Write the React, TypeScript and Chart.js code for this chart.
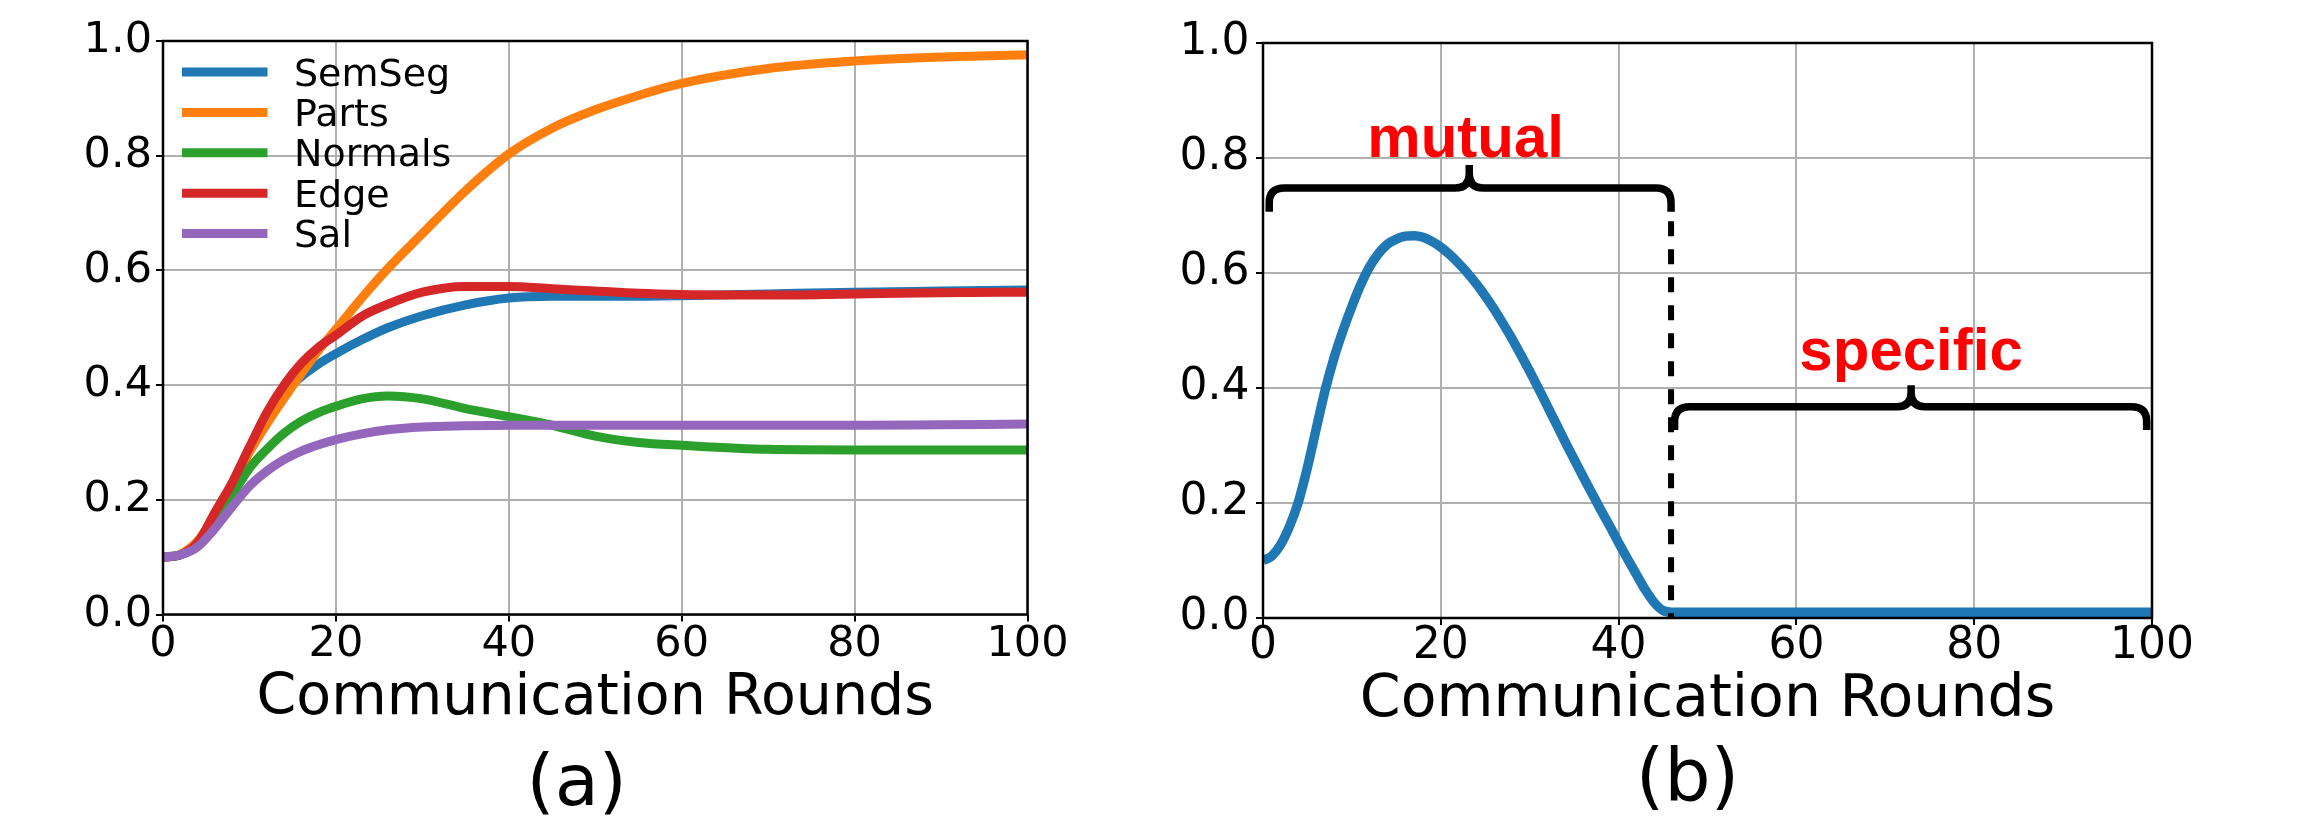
import React, { useEffect, useRef } from "react";
import { Chart, registerables } from "chart.js";

Chart.register(...registerables);

// ---------------- data ----------------
const SERIES_NAMES = ["SemSeg", "Parts", "Normals", "Edge", "Sal"];
const SERIES_COLORS = ["#1f77b4", "#ff7f0e", "#2ca02c", "#d62728", "#9467bd"];

const ROUNDS_A = [0, 2, 4, 6, 8, 10, 12, 14, 16, 18, 20, 23, 26, 30, 35, 40, 45, 50, 55, 60, 70, 80, 90, 100];
const SEMSEG = [0.100, 0.104, 0.125, 0.174, 0.226, 0.286, 0.340, 0.385, 0.415, 0.437, 0.455, 0.479, 0.500, 0.521, 0.540, 0.552, 0.555, 0.555, 0.555, 0.556, 0.559, 0.562, 0.564, 0.566];
const PARTS = [0.100, 0.105, 0.128, 0.172, 0.222, 0.283, 0.332, 0.377, 0.420, 0.461, 0.497, 0.552, 0.603, 0.664, 0.739, 0.803, 0.848, 0.880, 0.905, 0.926, 0.952, 0.965, 0.972, 0.976];
const NORMALS = [0.100, 0.104, 0.122, 0.160, 0.208, 0.255, 0.288, 0.316, 0.337, 0.352, 0.363, 0.376, 0.381, 0.376, 0.359, 0.345, 0.330, 0.311, 0.300, 0.295, 0.288, 0.287, 0.287, 0.287];
const EDGE = [0.100, 0.104, 0.125, 0.178, 0.230, 0.292, 0.352, 0.400, 0.438, 0.466, 0.487, 0.520, 0.541, 0.562, 0.572, 0.572, 0.568, 0.564, 0.560, 0.558, 0.557, 0.559, 0.561, 0.562];
const SAL = [0.100, 0.104, 0.118, 0.150, 0.188, 0.224, 0.250, 0.270, 0.285, 0.296, 0.305, 0.315, 0.322, 0.327, 0.329, 0.330, 0.330, 0.330, 0.330, 0.330, 0.330, 0.330, 0.331, 0.332];

const ROUNDS_B = [0, 1, 2, 3, 4, 5, 6, 7, 8, 9, 10, 11, 12, 13, 14, 15, 16, 17, 18, 19, 20, 21, 22, 23, 24, 25, 26, 27, 28, 29, 30, 31, 32, 33, 34, 35, 36, 37, 38, 39, 40, 41, 42, 43, 44, 45, 46, 60, 80, 100];
const GAP_B = [0.100, 0.108, 0.128, 0.160, 0.203, 0.262, 0.330, 0.397, 0.453, 0.500, 0.542, 0.580, 0.611, 0.634, 0.650, 0.659, 0.664, 0.665, 0.662, 0.655, 0.645, 0.632, 0.617, 0.600, 0.581, 0.560, 0.537, 0.512, 0.486, 0.458, 0.429, 0.399, 0.368, 0.337, 0.306, 0.276, 0.246, 0.217, 0.188, 0.160, 0.131, 0.103, 0.076, 0.049, 0.027, 0.013, 0.010, 0.010, 0.010, 0.010];

const X_TICKS = [0, 20, 40, 60, 80, 100];
const Y_TICKS = [0, 0.2, 0.4, 0.6, 0.8, 1.0];
const X_TITLE = "Communication Rounds";
const CAPTION_A = "(a)";
const CAPTION_B = "(b)";

// annotations of panel (b), in data units
const SPLIT_ROUND = 45.9;
const SPLIT_TOP = 0.69;
const MUTUAL_LABEL = "mutual";
const MUTUAL_LABEL_POS = [22.8, 0.802];
const MUTUAL_BRACE = { from: 0.7, to: 45.9, tip: 23.2, end: 0.7065, bar: 0.748, top: 0.788 };
const SPECIFIC_LABEL = "specific";
const SPECIFIC_LABEL_POS = [72.9, 0.431];
const SPECIFIC_BRACE = { from: 46.3, to: 99.4, tip: 72.9, end: 0.327, bar: 0.3675, top: 0.405 };

const FONT = "'DejaVu Sans', sans-serif";

// ---------------- helpers ----------------
const toPoints = (xs: number[], ys: number[]) => xs.map((x, i) => ({ x, y: ys[i] }));

const framePlugin = {
  id: "frame",
  afterDatasetsDraw(chart: any) {
    const { ctx, chartArea: a } = chart;
    ctx.save();
    ctx.strokeStyle = "#000";
    ctx.lineWidth = 2.5;
    ctx.strokeRect(a.left, a.top, a.right - a.left, a.bottom - a.top);
    ctx.restore();
  },
};

const captionPlugin = (text: string, size: number, dx: number, baseline: number) => ({
  id: "caption",
  afterDraw(chart: any) {
    const { ctx, chartArea: a } = chart;
    ctx.save();
    ctx.fillStyle = "#000";
    ctx.font = `${size}px ${FONT}`;
    ctx.textAlign = "center";
    ctx.textBaseline = "alphabetic";
    ctx.fillText(text, (a.left + a.right) / 2 + dx, baseline);
    ctx.restore();
  },
});

const legendPlugin = {
  id: "mplLegend",
  afterDatasetsDraw(chart: any) {
    const { ctx, chartArea: a } = chart;
    ctx.save();
    chart.data.datasets.forEach((ds: any, i: number) => {
      const cy = a.top + 31 + i * 40.4;
      ctx.strokeStyle = ds.borderColor;
      ctx.lineWidth = 9;
      ctx.lineCap = "butt";
      ctx.beginPath();
      ctx.moveTo(a.left + 19, cy);
      ctx.lineTo(a.left + 104.5, cy);
      ctx.stroke();
      ctx.fillStyle = "#000";
      ctx.font = `38px ${FONT}`;
      ctx.textAlign = "left";
      ctx.textBaseline = "alphabetic";
      ctx.fillText(ds.label, a.left + 131, cy + 13.5);
    });
    ctx.restore();
  },
};

function drawBrace(ctx: any, xs: any, ys: any, b: any) {
  const x1 = xs.getPixelForValue(b.from);
  const x2 = xs.getPixelForValue(b.to);
  const xm = xs.getPixelForValue(b.tip);
  const yEnd = ys.getPixelForValue(b.end);
  const yBar = ys.getPixelForValue(b.bar);
  const yTop = ys.getPixelForValue(b.top);
  const r = Math.min(15, yEnd - yBar);
  const r2 = Math.min(14, yBar - yTop);
  ctx.beginPath();
  ctx.moveTo(x1, yEnd);
  ctx.lineTo(x1, yBar + r);
  ctx.quadraticCurveTo(x1, yBar, x1 + r, yBar);
  ctx.lineTo(xm - r2, yBar);
  ctx.quadraticCurveTo(xm, yBar, xm, yBar - r2);
  ctx.lineTo(xm, yTop);
  ctx.moveTo(xm, yBar - r2);
  ctx.quadraticCurveTo(xm, yBar, xm + r2, yBar);
  ctx.lineTo(x2 - r, yBar);
  ctx.quadraticCurveTo(x2, yBar, x2, yBar + r);
  ctx.lineTo(x2, yEnd);
  ctx.stroke();
}

const annotationPlugin = {
  id: "bAnnotations",
  afterDatasetsDraw(chart: any) {
    const { ctx } = chart;
    const xs = chart.scales.x;
    const ys = chart.scales.y;
    ctx.save();
    // dashed split line
    ctx.strokeStyle = "#000";
    ctx.lineWidth = 6;
    ctx.lineCap = "butt";
    ctx.setLineDash([15, 13]);
    ctx.beginPath();
    ctx.moveTo(xs.getPixelForValue(SPLIT_ROUND), ys.getPixelForValue(SPLIT_TOP));
    ctx.lineTo(xs.getPixelForValue(SPLIT_ROUND), ys.getPixelForValue(0));
    ctx.stroke();
    ctx.setLineDash([]);
    // braces
    ctx.lineWidth = 7.5;
    ctx.lineJoin = "round";
    drawBrace(ctx, xs, ys, MUTUAL_BRACE);
    drawBrace(ctx, xs, ys, SPECIFIC_BRACE);
    // labels
    ctx.fillStyle = "#ff0000";
    ctx.font = `bold 60px 'Liberation Sans', Arial, sans-serif`;
    ctx.textAlign = "center";
    ctx.textBaseline = "alphabetic";
    ctx.fillText(MUTUAL_LABEL, xs.getPixelForValue(MUTUAL_LABEL_POS[0]), ys.getPixelForValue(MUTUAL_LABEL_POS[1]));
    ctx.fillText(SPECIFIC_LABEL, xs.getPixelForValue(SPECIFIC_LABEL_POS[0]), ys.getPixelForValue(SPECIFIC_LABEL_POS[1]));
    ctx.restore();
  },
};

function makeScales(o: any) {
  return {
    x: {
      type: "linear",
      min: 0,
      max: 100,
      afterBuildTicks: (s: any) => {
        s.ticks = X_TICKS.map((value) => ({ value }));
      },
      afterFit: (s: any) => {
        s.height = o.xHeight;
      },
      grid: { color: "#b0b0b0", lineWidth: 2, drawTicks: true, tickLength: 7, tickColor: "#000", tickWidth: 2 },
      border: { display: false },
      ticks: {
        color: "#000",
        font: { family: FONT, size: o.tick, lineHeight: 1 },
        padding: o.xPad,
        maxRotation: 0,
        autoSkip: false,
        callback: (v: any) => String(v),
      },
      title: {
        display: true,
        text: X_TITLE,
        color: "#000",
        font: { family: FONT, size: o.title, lineHeight: 1 },
        padding: { top: 0, bottom: o.titlePad },
      },
    },
    y: {
      type: "linear",
      min: 0,
      max: 1,
      afterBuildTicks: (s: any) => {
        s.ticks = Y_TICKS.map((value) => ({ value }));
      },
      afterFit: (s: any) => {
        s.width = o.yWidth;
      },
      grid: { color: "#b0b0b0", lineWidth: 2, drawTicks: true, tickLength: 7, tickColor: "#000", tickWidth: 2 },
      border: { display: false },
      ticks: {
        color: "#000",
        font: { family: FONT, size: o.tick, lineHeight: 1 },
        padding: o.yPad,
        autoSkip: false,
        callback: (v: any) => Number(v).toFixed(1),
      },
    },
  };
}

export default function App() {
  const refA = useRef<HTMLCanvasElement>(null);
  const refB = useRef<HTMLCanvasElement>(null);

  useEffect(() => {
    const seriesA = [SEMSEG, PARTS, NORMALS, EDGE, SAL];
    const chartA = new Chart(refA.current as HTMLCanvasElement, {
      type: "line",
      data: {
        datasets: seriesA.map((vals, i) => ({
          label: SERIES_NAMES[i],
          data: toPoints(ROUNDS_A, vals),
          borderColor: SERIES_COLORS[i],
          backgroundColor: SERIES_COLORS[i],
          borderWidth: 9,
          pointRadius: 0,
          fill: false,
          cubicInterpolationMode: "monotone",
          borderCapStyle: "butt",
          borderJoinStyle: "round",
          order: seriesA.length - i,
        })),
      },
      options: {
        animation: false,
        responsive: false,
        devicePixelRatio: 1,
        layout: { padding: { left: 0, top: 41, right: 122.5, bottom: 0 } },
        plugins: { legend: { display: false }, tooltip: { enabled: false } },
        scales: makeScales({ xHeight: 207.5, yWidth: 163, tick: 43, title: 57, titlePad: 94, xPad: 2, yPad: 4 }),
      } as any,
      plugins: [framePlugin, legendPlugin, captionPlugin(CAPTION_A, 72, -18.5, 805)],
    } as any);

    const chartB = new Chart(refB.current as HTMLCanvasElement, {
      type: "line",
      data: {
        datasets: [
          {
            label: "gap",
            data: toPoints(ROUNDS_B, GAP_B),
            borderColor: SERIES_COLORS[0],
            backgroundColor: SERIES_COLORS[0],
            borderWidth: 9.5,
            pointRadius: 0,
            fill: false,
            cubicInterpolationMode: "monotone",
            borderCapStyle: "butt",
            borderJoinStyle: "round",
          },
        ],
      },
      options: {
        animation: false,
        responsive: false,
        devicePixelRatio: 1,
        layout: { padding: { left: 0, top: 43, right: 153, bottom: 0 } },
        plugins: { legend: { display: false }, tooltip: { enabled: false } },
        scales: makeScales({ xHeight: 204, yWidth: 113, tick: 44, title: 58.5, titlePad: 91.75, xPad: 0, yPad: 6.5 }),
      } as any,
      plugins: [framePlugin, annotationPlugin, captionPlugin(CAPTION_B, 73, -20, 801)],
    } as any);

    return () => {
      chartA.destroy();
      chartB.destroy();
    };
  }, []);

  return (
    <div style={{ position: "absolute", left: 0, top: 0, width: 2305, height: 822, background: "#fff", overflow: "hidden" }}>
      <canvas ref={refA} width={1150} height={822} style={{ position: "absolute", left: 0, top: 0, width: 1150, height: 822 }} />
      <canvas ref={refB} width={1155} height={822} style={{ position: "absolute", left: 1150, top: 0, width: 1155, height: 822 }} />
    </div>
  );
}
